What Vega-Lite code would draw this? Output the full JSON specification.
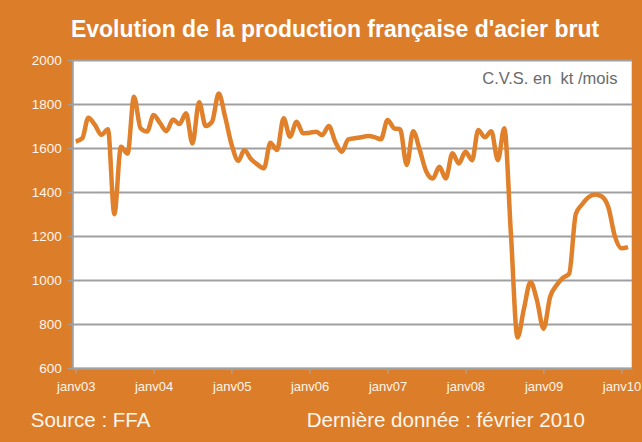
{
  "$schema": "https://vega.github.io/schema/vega-lite/v6.json",
  "autosize": {"type": "none"},
  "width": 559.4,
  "height": 308.3,
  "padding": {"left": 72.3, "top": 60, "right": 10.3, "bottom": 73.7},
  "background": "#DC7D2A",
  "config": {
    "font": "Liberation Sans",
    "view": {"fill": "#FFFFFF", "stroke": null},
    "axis": {
      "gridColor": "#A0A0A0",
      "gridWidth": 2,
      "domainColor": "#A0A0A0",
      "domainWidth": 2,
      "tickColor": "#A0A0A0",
      "tickWidth": 1.5,
      "tickSize": 5,
      "labelColor": "#FFF6EC",
      "labelFont": "Liberation Sans",
      "titleFont": "Liberation Sans",
      "titleColor": "#FFF6EC",
      "titleFontWeight": "normal"
    }
  },
  "title": {
    "text": "Evolution de la production française d'acier brut",
    "color": "#FFFFFF",
    "fontSize": 23,
    "fontWeight": "bold",
    "font": "Liberation Sans",
    "anchor": "middle",
    "baseline": "alphabetic",
    "offset": -7,
    "dx": -17
  },
  "data": {
    "values": [
      {"date": "2003/01/01", "prod": 1630}, {"date": "2003/02/01", "prod": 1645},
      {"date": "2003/03/01", "prod": 1738}, {"date": "2003/04/01", "prod": 1705},
      {"date": "2003/05/01", "prod": 1660}, {"date": "2003/06/01", "prod": 1685},
      {"date": "2003/07/01", "prod": 1300}, {"date": "2003/08/01", "prod": 1606},
      {"date": "2003/09/01", "prod": 1575}, {"date": "2003/10/01", "prod": 1833},
      {"date": "2003/11/01", "prod": 1690}, {"date": "2003/12/01", "prod": 1675},
      {"date": "2004/01/01", "prod": 1750}, {"date": "2004/02/01", "prod": 1712},
      {"date": "2004/03/01", "prod": 1677}, {"date": "2004/04/01", "prod": 1730},
      {"date": "2004/05/01", "prod": 1709}, {"date": "2004/06/01", "prod": 1758},
      {"date": "2004/07/01", "prod": 1621}, {"date": "2004/08/01", "prod": 1808},
      {"date": "2004/09/01", "prod": 1700}, {"date": "2004/10/01", "prod": 1720},
      {"date": "2004/11/01", "prod": 1848}, {"date": "2004/12/01", "prod": 1742},
      {"date": "2005/01/01", "prod": 1614}, {"date": "2005/02/01", "prod": 1542},
      {"date": "2005/03/01", "prod": 1591}, {"date": "2005/04/01", "prod": 1550},
      {"date": "2005/05/01", "prod": 1526}, {"date": "2005/06/01", "prod": 1508},
      {"date": "2005/07/01", "prod": 1624}, {"date": "2005/08/01", "prod": 1591},
      {"date": "2005/09/01", "prod": 1735}, {"date": "2005/10/01", "prod": 1652},
      {"date": "2005/11/01", "prod": 1720}, {"date": "2005/12/01", "prod": 1667},
      {"date": "2006/01/01", "prod": 1670}, {"date": "2006/02/01", "prod": 1674},
      {"date": "2006/03/01", "prod": 1659}, {"date": "2006/04/01", "prod": 1700},
      {"date": "2006/05/01", "prod": 1629}, {"date": "2006/06/01", "prod": 1583},
      {"date": "2006/07/01", "prod": 1640}, {"date": "2006/08/01", "prod": 1645},
      {"date": "2006/09/01", "prod": 1649}, {"date": "2006/10/01", "prod": 1655},
      {"date": "2006/11/01", "prod": 1650}, {"date": "2006/12/01", "prod": 1640},
      {"date": "2007/01/01", "prod": 1727}, {"date": "2007/02/01", "prod": 1690},
      {"date": "2007/03/01", "prod": 1685}, {"date": "2007/04/01", "prod": 1523},
      {"date": "2007/05/01", "prod": 1677}, {"date": "2007/06/01", "prod": 1591},
      {"date": "2007/07/01", "prod": 1495}, {"date": "2007/08/01", "prod": 1462},
      {"date": "2007/09/01", "prod": 1515}, {"date": "2007/10/01", "prod": 1462},
      {"date": "2007/11/01", "prod": 1576}, {"date": "2007/12/01", "prod": 1530},
      {"date": "2008/01/01", "prod": 1583}, {"date": "2008/02/01", "prod": 1545},
      {"date": "2008/03/01", "prod": 1682}, {"date": "2008/04/01", "prod": 1649},
      {"date": "2008/05/01", "prod": 1677}, {"date": "2008/06/01", "prod": 1545},
      {"date": "2008/07/01", "prod": 1690}, {"date": "2008/08/01", "prod": 1212},
      {"date": "2008/09/01", "prod": 740}, {"date": "2008/10/01", "prod": 870},
      {"date": "2008/11/01", "prod": 992}, {"date": "2008/12/01", "prod": 909},
      {"date": "2009/01/01", "prod": 780}, {"date": "2009/02/01", "prod": 925},
      {"date": "2009/03/01", "prod": 975}, {"date": "2009/04/01", "prod": 1010},
      {"date": "2009/05/01", "prod": 1030}, {"date": "2009/06/01", "prod": 1300},
      {"date": "2009/07/01", "prod": 1345}, {"date": "2009/08/01", "prod": 1378},
      {"date": "2009/09/01", "prod": 1389}, {"date": "2009/10/01", "prod": 1380},
      {"date": "2009/11/01", "prod": 1330}, {"date": "2009/12/01", "prod": 1200},
      {"date": "2010/01/01", "prod": 1145}, {"date": "2010/02/01", "prod": 1150}
    ]
  },
  "layer": [
    {
      "mark": {"type": "line", "color": "#E0802B", "strokeWidth": 4.5, "interpolate": "monotone"},
      "encoding": {
        "x": {
          "field": "date",
          "type": "temporal",
          "scale": {"domain": [{"year": 2002, "month": 12, "date": 16}, {"year": 2010, "month": 2, "date": 18}]},
          "axis": {
            "values": [
              {"year": 2003, "month": 1, "date": 1}, {"year": 2003, "month": 7, "date": 1},
              {"year": 2004, "month": 1, "date": 1}, {"year": 2004, "month": 7, "date": 1},
              {"year": 2005, "month": 1, "date": 1}, {"year": 2005, "month": 7, "date": 1},
              {"year": 2006, "month": 1, "date": 1}, {"year": 2006, "month": 7, "date": 1},
              {"year": 2007, "month": 1, "date": 1}, {"year": 2007, "month": 7, "date": 1},
              {"year": 2008, "month": 1, "date": 1}, {"year": 2008, "month": 7, "date": 1},
              {"year": 2009, "month": 1, "date": 1}, {"year": 2009, "month": 7, "date": 1},
              {"year": 2010, "month": 1, "date": 1}
            ],
            "labelExpr": "month(datum.value) == 0 ? 'janv' + timeFormat(datum.value, '%y') : ''",
            "labelFontSize": 13,
            "labelPadding": 7,
            "labelFlush": false,
            "labelOverlap": false,
            "grid": false,
            "title": "Dernière donnée : février 2010",
            "titleFontSize": 20.5,
            "titleAlign": "left",
            "titleBaseline": "alphabetic",
            "titleAnchor": null,
            "titleX": 234,
            "titleY": 57.7
          }
        },
        "y": {
          "field": "prod",
          "type": "quantitative",
          "scale": {"domain": [600, 2000], "nice": false, "zero": false},
          "axis": {
            "values": [600, 800, 1000, 1200, 1400, 1600, 1800, 2000],
            "format": "d",
            "labelFontSize": 13.5,
            "labelPadding": 6,
            "grid": true,
            "title": "Source : FFA",
            "titleFontSize": 20.5,
            "titleAngle": 0,
            "titleAlign": "left",
            "titleBaseline": "alphabetic",
            "titleAnchor": null,
            "titleX": -42,
            "titleY": 366
          }
        }
      }
    },
    {
      "data": {"values": [{"date": "2009/12/13", "prod": 1891, "note": "C.V.S. en\u00a0 kt /mois"}]},
      "mark": {"type": "text", "align": "right", "baseline": "alphabetic", "fontSize": 16.5, "color": "#6A6A6A", "font": "Liberation Sans"},
      "encoding": {
        "x": {"field": "date", "type": "temporal"},
        "y": {"field": "prod", "type": "quantitative"},
        "text": {"field": "note"}
      }
    }
  ]
}
